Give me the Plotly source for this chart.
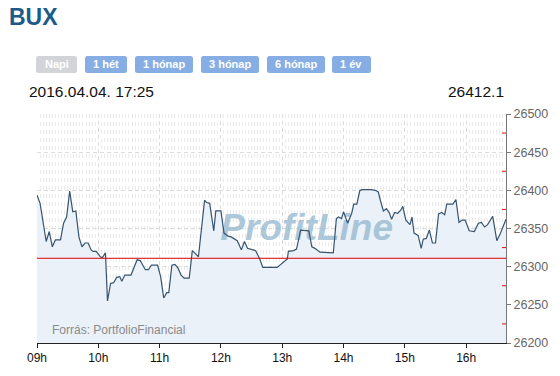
import plotly.graph_objects as go
import pandas as pd

# ---- data ----
times = ["09:00", "09:03", "09:09", "09:12", "09:15", "09:18", "09:23", "09:26", "09:29", "09:32",
         "09:35", "09:38", "09:41", "09:44", "09:47", "09:50", "09:53", "09:55", "09:58", "10:02",
         "10:04", "10:07", "10:09", "10:12", "10:15", "10:18", "10:21", "10:23", "10:26", "10:32",
         "10:38", "10:41", "10:46", "10:49", "10:52", "10:58", "11:01", "11:04", "11:07", "11:09",
         "11:12", "11:15", "11:18", "11:21", "11:24", "11:29", "11:32", "11:38", "11:44", "11:46",
         "11:49", "11:53", "11:55", "12:00", "12:03", "12:07", "12:10", "12:14", "12:16", "12:20",
         "12:23", "12:26", "12:29", "12:34", "12:38", "12:41", "12:55", "13:00", "13:05", "13:06",
         "13:11", "13:14", "13:18", "13:26", "13:29", "13:32", "13:37", "13:50", "13:53", "13:55",
         "13:58", "14:00", "14:04", "14:08", "14:10", "14:13", "14:16", "14:19", "14:27", "14:31",
         "14:34", "14:36", "14:39", "14:42", "14:45", "14:47", "14:50", "14:53", "14:56", "14:58",
         "15:01", "15:05", "15:07", "15:09", "15:13", "15:16", "15:18", "15:21", "15:24", "15:27",
         "15:30", "15:33", "15:36", "15:39", "15:41", "15:47", "15:50", "15:53", "15:56", "15:59",
         "16:03", "16:08", "16:12", "16:15", "16:18", "16:21", "16:26", "16:30", "16:33", "16:39"]
values = [26394, 26383, 26333, 26346, 26326, 26335, 26335, 26357, 26365, 26399,
          26372, 26373, 26339, 26326, 26331, 26331, 26322, 26320, 26320, 26313,
          26312, 26318, 26255, 26278, 26279, 26286, 26287, 26281, 26289, 26289,
          26309, 26308, 26296, 26296, 26302, 26302, 26287, 26259, 26266, 26266,
          26302, 26303, 26298, 26289, 26285, 26285, 26321, 26313, 26387, 26384,
          26383, 26347, 26373, 26373, 26344, 26340, 26339, 26336, 26334, 26322,
          26333, 26324, 26323, 26321, 26310, 26299, 26299, 26304, 26310, 26320,
          26321, 26323, 26348, 26347, 26326, 26324, 26319, 26318, 26363, 26365,
          26363, 26372, 26357, 26370, 26382, 26382, 26400, 26401, 26401, 26400,
          26398, 26387, 26373, 26376, 26370, 26362, 26371, 26370, 26374, 26379,
          26361, 26355, 26365, 26344, 26341, 26324, 26336, 26337, 26348, 26331,
          26331, 26369, 26371, 26368, 26382, 26382, 26388, 26358, 26361, 26361,
          26347, 26346, 26357, 26358, 26352, 26355, 26366, 26334, 26342, 26362]
previous_close = 26311
y_range = [26200, 26500]
date_label = "2016.04.04. 17:25"
last_value_label = "26412.1"
buttons = ["Napi", "1 hét", "1 hónap", "3 hónap", "6 hónap", "1 év"]
title = "BUX"
source = "Forrás: PortfolioFinancial"
watermark = "ProfitLine"

day = "2016-04-04 "
x = pd.to_datetime([day + t for t in times])

W, H = 560, 376
L, R, T, B = 37, 54, 114, 33
PW, PH = W - L - R, H - T - B


def px(xp):
    return round((xp - L) / PW, 5)


def py(yp):
    return round((H - B - yp) / PH, 5)


fig = go.Figure()
fig.add_trace(go.Scatter(x=x, y=values, mode="none", fill="tozeroy",
                         fillcolor="rgb(234,241,248)", hoverinfo="skip"))
mid_x = x[0] + (x[-1] - x[0]) * 0.575
fig.add_trace(go.Scatter(x=[mid_x], y=[26347], mode="text", text=[watermark],
                         textfont=dict(family="Liberation Sans", size=37,
                                       color="rgba(150,185,208,0.8)",
                                       weight="bold", style="italic"),
                         hoverinfo="skip"))
fig.add_trace(go.Scatter(x=x, y=values, mode="lines",
                         line=dict(color="#36546f", width=1.2)))

shapes = [dict(type="line", xref="paper", x0=0, x1=1, yref="y",
               y0=previous_close, y1=previous_close,
               line=dict(color="#dd0000", width=1), layer="above")]
# red minor ticks on the inside of the right axis, halfway between labels
for v in range(y_range[0] + 25, y_range[1], 50):
    shapes.append(dict(type="line", xref="paper", x0=1 - 4 / PW, x1=1, yref="y",
                       y0=v, y1=v, line=dict(color="#e01010", width=1), layer="above"))

annotations = []
btn_x = [(36, 77), (85, 127), (135, 193), (201, 259), (267, 325), (332, 371)]
y0p, y1p = 56, 73
for i, (lbl, (a, b)) in enumerate(zip(buttons, btn_x)):
    r = 2.5
    xa, xb = px(a), px(b)
    ya, yb = py(y1p), py(y0p)
    rx, ry = round(r / PW, 5), round(r / PH, 5)
    path = (f"M {xa+rx:.5f},{ya:.5f} L {xb-rx:.5f},{ya:.5f} Q {xb:.5f},{ya:.5f} {xb:.5f},{ya+ry:.5f} "
            f"L {xb:.5f},{yb-ry:.5f} Q {xb:.5f},{yb:.5f} {xb-rx:.5f},{yb:.5f} L {xa+rx:.5f},{yb:.5f} "
            f"Q {xa:.5f},{yb:.5f} {xa:.5f},{yb-ry:.5f} L {xa:.5f},{ya+ry:.5f} Q {xa:.5f},{ya:.5f} {xa+rx:.5f},{ya:.5f} Z")
    col = "#d3d4d8" if i == 0 else "#86aee4"
    shapes.append(dict(type="path", xref="paper", yref="paper", path=path,
                       fillcolor=col, line=dict(width=0), layer="above"))
    annotations.append(dict(x=(xa + xb) / 2, y=(ya + yb) / 2, xref="paper", yref="paper",
                            text=f"<b>{lbl}</b>", showarrow=False,
                            font=dict(family="Liberation Sans", size=11, color="white"),
                            xanchor="center", yanchor="middle"))

annotations.append(dict(x=px(7), y=py(17), xref="paper", yref="paper",
                        text=f"<b>{title}</b>", showarrow=False, xanchor="left", yanchor="middle",
                        font=dict(family="Liberation Sans", size=23, color="#1b5a8a")))
annotations.append(dict(x=px(27), y=py(92), xref="paper", yref="paper",
                        text=date_label, showarrow=False, xanchor="left", yanchor="middle",
                        font=dict(family="Liberation Sans", size=15.5, color="#111111")))
annotations.append(dict(x=px(506), y=py(92), xref="paper", yref="paper",
                        text=last_value_label, showarrow=False, xanchor="right", yanchor="middle",
                        font=dict(family="Liberation Sans", size=15.5, color="#111111")))
annotations.append(dict(x=px(50), y=py(329.5), xref="paper", yref="paper",
                        text=source, showarrow=False, xanchor="left", yanchor="middle",
                        font=dict(family="Liberation Sans", size=12, color="#8a8a8a")))

fig.update_layout(
    width=W, height=H,
    margin=dict(l=L, r=R, t=T, b=B),
    paper_bgcolor="white", plot_bgcolor="white",
    showlegend=False,
    shapes=shapes,
    annotations=annotations,
    font=dict(family="Liberation Sans"),
)
fig.update_xaxes(
    range=[x[0], x[-1]], type="date", dtick=3600000, tick0=day + "09:00",
    tickformat="%Hh", ticks="outside", ticklen=4, tickcolor="#222",
    showline=True, linecolor="#222", linewidth=1,
    showgrid=True, gridcolor="#dcdcdc", griddash="4px,3px",
    tickfont=dict(size=12, color="#111"),
    minor=dict(dtick=180000, showgrid=True, gridcolor="#ebebeb", griddash="4px,4px"),
    zeroline=False, fixedrange=True,
)
fig.update_yaxes(
    range=y_range, side="right", dtick=50, tickformat="d",
    ticks="outside", ticklen=4, tickcolor="#777",
    showline=True, linecolor="#777", linewidth=1,
    showgrid=True, gridcolor="#dcdcdc", griddash="4px,3px",
    tickfont=dict(size=12.5, color="#666"),
    zeroline=False, fixedrange=True,
)

fig.write_html("out.html")
